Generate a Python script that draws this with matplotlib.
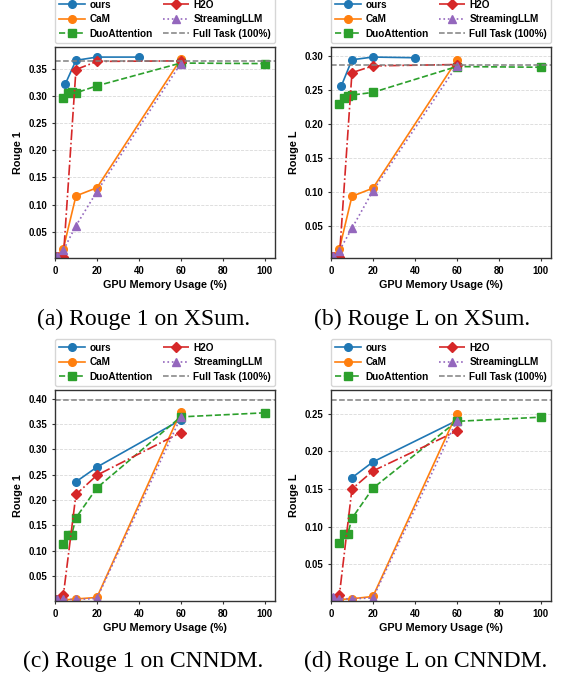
import matplotlib
matplotlib.use("Agg")
import matplotlib.pyplot as plt

plt.rcParams['font.family'] = ['Liberation Sans', 'DejaVu Sans']
plt.rcParams['font.weight'] = 'bold'

# memory budgets (% of full KV cache)
x_base = [1, 4, 10, 20, 60]
x_duo = [4, 6, 8, 10, 20, 60, 100]
x_ours_xsum = [5, 10, 20, 40]
x_ours_cnn = [10, 20, 60]

# XSum, Rouge 1
xsum_r1_ours = [0.323, 0.366, 0.372, 0.372]
xsum_r1_cam = [0.005, 0.019, 0.116, 0.131, 0.368]
xsum_r1_duo = [0.297, 0.305, 0.307, 0.306, 0.319, 0.361, 0.360]
xsum_r1_h2o = [0.004, 0.003, 0.349, 0.364, 0.365]
xsum_r1_stream = [0.006, 0.016, 0.061, 0.124, 0.360]
xsum_r1_full = 0.365

# XSum, Rouge L
xsum_rl_ours = [0.256, 0.294, 0.298, 0.297]
xsum_rl_cam = [0.005, 0.0155, 0.093, 0.105, 0.293]
xsum_rl_duo = [0.2295, 0.237, 0.241, 0.242, 0.246, 0.284, 0.283]
xsum_rl_h2o = [0.004, 0.003, 0.275, 0.285, 0.287]
xsum_rl_stream = [0.005, 0.013, 0.046, 0.101, 0.285]
xsum_rl_full = 0.287

# CNNDM, Rouge 1
cnn_r1_ours = [0.236, 0.265, 0.358]
cnn_r1_cam = [0.004, 0.003, 0.005, 0.008, 0.374]
cnn_r1_duo = [0.114, 0.132, 0.132, 0.165, 0.224, 0.364, 0.372]
cnn_r1_h2o = [0.003, 0.013, 0.211, 0.249, 0.333]
cnn_r1_stream = [0.005, 0.004, 0.004, 0.006, 0.363]
cnn_r1_full = 0.398

# CNNDM, Rouge L
cnn_rl_ours = [0.165, 0.186, 0.241]
cnn_rl_cam = [0.004, 0.003, 0.004, 0.007, 0.250]
cnn_rl_duo = [0.078, 0.090, 0.090, 0.111, 0.151, 0.240, 0.2455]
cnn_rl_h2o = [0.003, 0.009, 0.150, 0.174, 0.227]
cnn_rl_stream = [0.006, 0.004, 0.004, 0.005, 0.241]
cnn_rl_full = 0.269

panels = [
    (x_ours_xsum, xsum_r1_ours, xsum_r1_cam, xsum_r1_duo, xsum_r1_h2o, xsum_r1_stream,
     xsum_r1_full, 'Rouge 1', (0.0015, 0.3906), '(a) Rouge 1 on XSum.'),
    (x_ours_xsum, xsum_rl_ours, xsum_rl_cam, xsum_rl_duo, xsum_rl_h2o, xsum_rl_stream,
     xsum_rl_full, 'Rouge L', (0.0022, 0.3128), '(b) Rouge L on XSum.'),
    (x_ours_cnn, cnn_r1_ours, cnn_r1_cam, cnn_r1_duo, cnn_r1_h2o, cnn_r1_stream,
     cnn_r1_full, 'Rouge 1', (0.001, 0.417), '(c) Rouge 1 on CNNDM.'),
    (x_ours_cnn, cnn_rl_ours, cnn_rl_cam, cnn_rl_duo, cnn_rl_h2o, cnn_rl_stream,
     cnn_rl_full, 'Rouge L', (0.001, 0.2817), '(d) Rouge L on CNNDM.'),
]

W, H = 564, 678
fig = plt.figure(figsize=(W / 100, H / 100), dpi=100)

ax_w, ax_h = 220 / W, 211 / H
lefts = [55 / W, 331 / W, 55 / W, 331 / W]
bottoms = [1 - 258 / H, 1 - 258 / H, 1 - 601 / H, 1 - 601 / H]
cap_x = [0.254, 0.748, 0.254, 0.754]
cap_y = [1 - 319 / H, 1 - 319 / H, 1 - 661 / H, 1 - 661 / H]

ms = 5.5
lw = 1.2
for i, (xo, ours, cam, duo, h2o, stream, full, ylab, ylim, cap) in enumerate(panels):
    ax = fig.add_axes([lefts[i], bottoms[i], ax_w, ax_h])
    ax.plot(xo, ours, '-o', color='#1f77b4', lw=lw, ms=ms, label='ours')
    ax.plot(x_base, cam, '-o', color='#ff7f0e', lw=lw, ms=ms, label='CaM')
    ax.plot(x_duo, duo, '--s', color='#2ca02c', lw=lw, ms=ms, label='DuoAttention')
    ax.plot(x_base, h2o, '-.D', color='#d62728', lw=lw, ms=ms - 0.5, label='H2O')
    ax.plot(x_base, stream, ':^', color='#9467bd', lw=lw, ms=ms, label='StreamingLLM')
    ax.axhline(full, color='#808080', ls='--', lw=1.1, label='Full Task (100%)')

    ax.set_xlim(0, 105)
    ax.set_ylim(*ylim)
    top = ylim[1]
    ticks = [t / 100 for t in range(5, int(top * 100) + 1, 5)]
    ax.set_yticks(ticks)
    ax.set_yticklabels(['%.2f' % t for t in ticks])
    ax.set_xticks([0, 20, 40, 60, 80, 100])

    ax.grid(axis='y', color='#d9d9d9', ls='--', lw=0.6)
    ax.set_axisbelow(True)
    for s in ax.spines.values():
        s.set_color('#333333')
        s.set_linewidth(1.0)
    ax.tick_params(length=2.5, width=0.8, color='#333333', labelsize=6.9, pad=3)
    for lab in ax.get_xticklabels() + ax.get_yticklabels():
        lab.set_fontweight('bold')

    ax.set_xlabel('GPU Memory Usage (%)', fontsize=7.8, fontweight='bold', labelpad=3)
    ax.set_ylabel(ylab, fontsize=7.8, fontweight='bold', labelpad=4)

    ax.legend(loc='lower left', bbox_to_anchor=(0, 1.02, 1, 0.2), mode='expand',
              ncol=2, fontsize=7.2, frameon=True, edgecolor='#cccccc', fancybox=True,
              borderaxespad=0, handlelength=2.6, handletextpad=0.45,
              labelspacing=0.45, borderpad=0.4)

    fig.text(cap_x[i], cap_y[i], cap, ha='center', va='center', fontsize=17,
             fontweight='normal', family=['Liberation Serif', 'DejaVu Serif'])

fig.savefig('out.png', dpi=100)
